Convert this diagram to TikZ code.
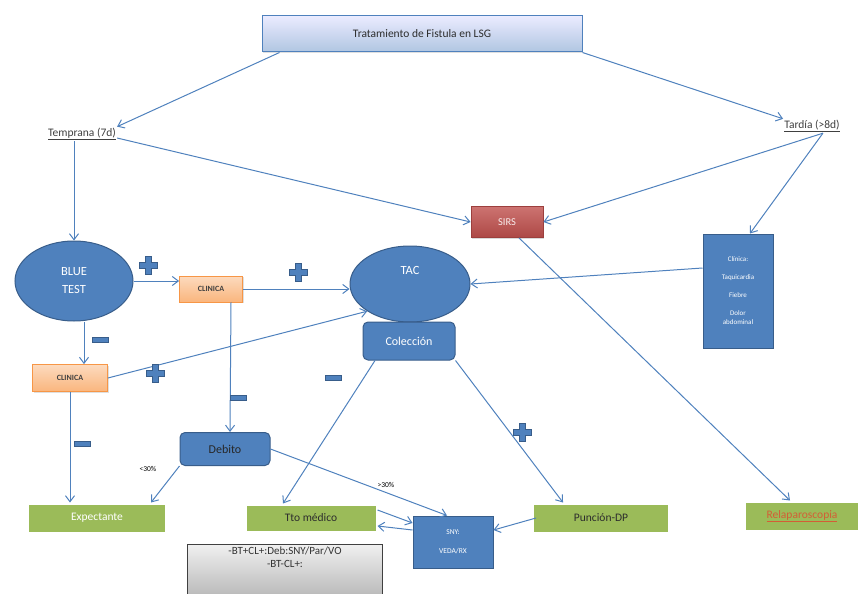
\documentclass[tikz,border=0pt]{standalone}
\usepackage{fontspec}
\setmainfont{Carlito}
\usetikzlibrary{arrows.meta,shapes.geometric,shadows}
\definecolor{lblue}{HTML}{4F81BD}
\definecolor{dblue}{HTML}{385D8A}
\definecolor{lgreen}{HTML}{9BBB59}
\definecolor{sred}{HTML}{C0504D}
\definecolor{dred}{HTML}{8C3836}
\definecolor{orng}{HTML}{F79646}
\definecolor{txt}{HTML}{404040}
\tikzset{
  conn/.style={draw=lblue, line width=1pt, -{Straight Barb[length=6pt,width=9pt]}},
  bluefill/.style={fill=lblue, draw=dblue, line width=1pt, text=white},
  ovalnode/.style={ellipse, bluefill, font=\fontsize{12.5}{14}\selectfont, align=center, inner sep=0pt},
  roundnode/.style={rectangle, rounded corners=5pt, bluefill, text=txt!60!black, font=\fontsize{12}{14}\selectfont, inner sep=0pt},
  greenbox/.style={rectangle, fill=lgreen, draw=white, line width=2pt, inner sep=0pt,
     drop shadow={opacity=0.35, shadow xshift=1.2pt, shadow yshift=-1.5pt}, font=\fontsize{11.5}{13}\selectfont},
  orangebox/.style={rectangle, top color=orng!35, bottom color=orng!70, draw=orng, line width=0.8pt,
     inner sep=0pt, font=\bfseries\fontsize{8}{10}\selectfont, text=txt,
     drop shadow={opacity=0.25, shadow xshift=1pt, shadow yshift=-1.2pt}},
  lbl/.style={font=\fontsize{11.5}{13}\selectfont, text=txt, inner sep=1pt},
  small/.style={font=\fontsize{7.5}{9}\selectfont, text=black, inner sep=0pt},
}
\newcommand{\plussign}[2]{%
  \filldraw[fill=lblue, draw=dblue, line width=0.6pt]
   (#1-3,#2-9) -- (#1+3,#2-9) -- (#1+3,#2-3) -- (#1+9,#2-3) -- (#1+9,#2+3) -- (#1+3,#2+3)
   -- (#1+3,#2+9) -- (#1-3,#2+9) -- (#1-3,#2+3) -- (#1-9,#2+3) -- (#1-9,#2-3) -- (#1-3,#2-3) -- cycle;}
\newcommand{\minussign}[2]{%
  \filldraw[fill=lblue, draw=dblue, line width=0.6pt] (#1-8,#2-2.5) rectangle (#1+8,#2+2.5);}
\begin{document}
\begin{tikzpicture}[x=1pt,y=-1pt]
\useasboundingbox (0,0) rectangle (859,594);

% title
\node (title) [rectangle, top color=blue!8!white, bottom color=lblue!45!white, draw=lblue, line width=1pt,
  minimum width=320pt, minimum height=36pt, inner sep=0pt, font=\fontsize{11.5}{13}\selectfont, text=txt!70!black,
  drop shadow={opacity=0.25, shadow xshift=1pt, shadow yshift=-1.5pt}] at (422,34) {Tratamiento de Fistula en LSG};

\node (temp) [lbl] at (82,134) {\underline{Temprana (7d)}};
\node (tard) [lbl] at (812,126) {\underline{Tardía (>8d)}};

\node (sirs) [rectangle, top color=sred!80!white, bottom color=sred!90!black, draw=dred!70!sred, line width=0.8pt,
  minimum width=72pt, minimum height=31pt, inner sep=0pt, text=white!90!sred, font=\fontsize{10.5}{12}\selectfont,
  drop shadow={opacity=0.3, shadow xshift=1pt, shadow yshift=-1.5pt}] at (507,222) {SIRS};

\node (clin) [rectangle, bluefill, minimum width=70pt, minimum height=114pt, inner sep=0pt, align=center,
  font=\fontsize{7}{9}\selectfont] at (738,291)
  {Clínica:\\[9pt]Taquicardia\\[9pt]Fiebre\\[9pt]Dolor\\abdominal};

\node (blue) [ovalnode, minimum width=118pt, minimum height=80pt] at (74,281) {BLUE\\[4pt]TEST};
\node (tac) [ovalnode, minimum width=120pt, minimum height=76pt] at (410,284) {TAC\\[14pt]};
\node (col) [roundnode, text=white, minimum width=92pt, minimum height=38pt] at (409,341) {Colección};

\node (cl1) [orangebox, minimum width=63pt, minimum height=26pt] at (211,289) {CLINICA};
\node (cl2) [orangebox, minimum width=75pt, minimum height=27pt] at (70,378) {CLINICA};

\node (deb) [roundnode, minimum width=90pt, minimum height=33pt] at (225,449) {Debito};

\node (exp) [greenbox, minimum width=138pt, minimum height=29pt, text=white] at (97,518) {Expectante};
\node (tto) [greenbox, minimum width=131pt, minimum height=27pt, text=txt!70!black] at (311,518) {Tto médico};
\node (pun) [greenbox, minimum width=136pt, minimum height=29pt, text=txt!70!black] at (601,518) {Punción-DP};
\node (rel) [greenbox, minimum width=114pt, minimum height=29pt, text=sred!70!orange] at (802,516) {\underline{Relaparoscopia}};

\node (sny) [rectangle, bluefill, minimum width=80pt, minimum height=52pt, inner sep=0pt, align=center,
  font=\fontsize{7.5}{9}\selectfont] at (453,542) {SNY:\\[10pt]VEDA/RX};

\node (gray) [rectangle, top color=gray!12, bottom color=gray!55, draw=black!75, line width=0.8pt,
  minimum width=195pt, minimum height=52pt, inner sep=0pt, anchor=north, align=center,
  font=\fontsize{11}{13}\selectfont, text=txt!80!black] at (285,544)
  {-BT+CL+:Deb:SNY/Par/VO\\-BT-CL+:\\[14pt]};

% connectors
\draw[conn] ([xshift=18pt]title.south west) -- (temp.north east);
\draw[conn] (title.south east) -- (tard.north west);
\draw[conn] ([yshift=-4pt]temp.east) -- (sirs.west);
\draw[conn] ([xshift=-18pt]tard.south east) -- (sirs.east);
\draw[conn] ([xshift=-18pt]tard.south east) -- ([xshift=12pt]clin.north);
\draw[conn] ([yshift=23pt]clin.west) -- (tac.east);
\draw[conn] (temp.south west -| blue.north) -- (blue.north);
\draw[conn] (blue.east) -- (cl1.west |- blue.east);
\draw[conn] (cl1.east) -- (tac.west |- cl1.east);
\draw[conn] ([xshift=14pt]cl2.north |- blue.south) -- ([xshift=14pt]cl2.north);
\draw[conn] (cl2.east) -- (tac.south west);
\draw[conn] ([xshift=20pt]cl1.south) -- ([xshift=5pt]deb.north);
\draw[conn] (cl2.south) -- (cl2.south |- exp.north);
\draw[conn] (deb.south west) -- ([xshift=-16pt]exp.north east);
\draw[conn] (deb.east) -- ([xshift=-6pt]sny.north);
\draw[conn] ([xshift=-34pt]col.south) -- ([xshift=-28pt]tto.north);
\draw[conn] (col.south east) -- ([xshift=-38pt]pun.north);
\draw[conn] ([xshift=12pt]sirs.south) -- ([xshift=-12pt]rel.north);
\draw[conn] ([yshift=8pt]tto.east) -- ([yshift=19pt]sny.west);
\draw[conn] ([yshift=12pt]sny.west) -- ([yshift=-8pt]tto.east);
\draw[conn] ([xshift=4pt]pun.west) -- ([yshift=12pt]sny.east);

% edge labels
\node (l30) [small] at (148,469) {<30\%};
\node (g30) [small] at (386,485) {>30\%};

% signs
\plussign{148}{265}
\plussign{298}{272}
\plussign{155}{373}
\plussign{522}{432}
\minussign{100}{340}
\minussign{238}{398}
\minussign{333}{378}
\minussign{82}{444}
\end{tikzpicture}
\end{document}
